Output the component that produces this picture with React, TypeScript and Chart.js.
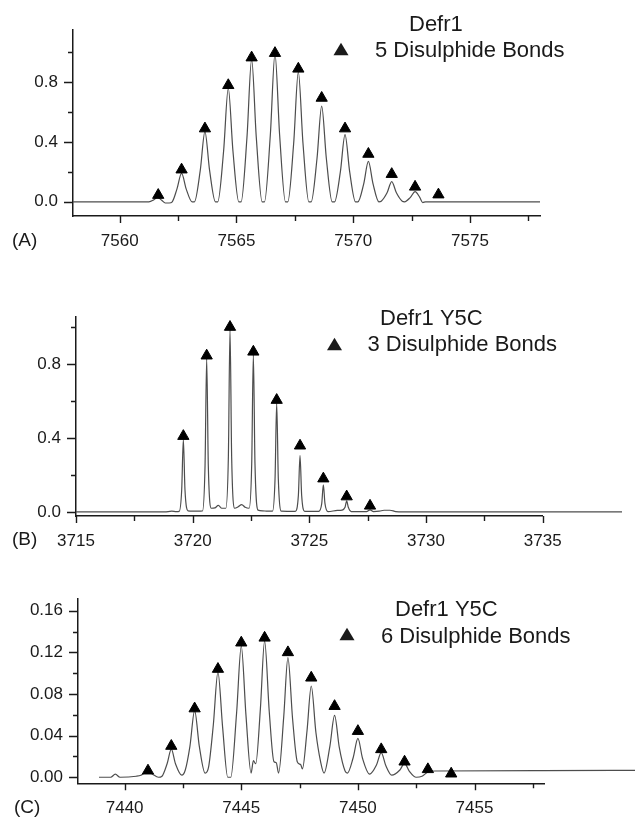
import React, { useEffect, useRef } from "react";
import { Chart, registerables } from "chart.js";

Chart.register(...registerables);

const FONT = "'Liberation Sans', Arial, Helvetica, sans-serif";
const INK = "#1a1a1a";
const TRACE = "#4d4d4d";

// ---------- Panel A : Defr1, 5 disulphide bonds ----------
const traceA: [number, number][] = [
  [7558, 0], [7561.25, 0], [7561.45, 0.012], [7561.62, 0.03], [7561.8, 0.01], [7561.95, -0.008], [7562.12, -0.008], [7562.25, 0],
  [7562.45, 0.085], [7562.65, 0.19], [7562.85, 0.085], [7563.1, 0],
  [7563.2, 0], [7563.45, 0.21], [7563.65, 0.47], [7563.85, 0.21], [7564.1, 0],
  [7564.2, 0], [7564.45, 0.34], [7564.65, 0.76], [7564.85, 0.34], [7565.1, 0],
  [7565.2, 0], [7565.45, 0.43], [7565.65, 0.955], [7565.85, 0.43], [7566.1, 0],
  [7566.2, 0], [7566.45, 0.445], [7566.65, 0.99], [7566.85, 0.445], [7567.1, 0],
  [7567.2, 0], [7567.45, 0.39], [7567.65, 0.87], [7567.85, 0.39], [7568.1, 0],
  [7568.2, 0], [7568.45, 0.29], [7568.65, 0.64], [7568.85, 0.29], [7569.1, 0],
  [7569.2, 0], [7569.45, 0.2], [7569.65, 0.45], [7569.85, 0.2], [7570.1, 0],
  [7570.2, 0], [7570.45, 0.12], [7570.65, 0.27], [7570.85, 0.12], [7571.1, 0],
  [7571.2, 0.004], [7571.45, 0.06], [7571.65, 0.135], [7571.85, 0.06], [7572.1, 0.004],
  [7572.2, 0], [7572.45, 0.03], [7572.65, 0.068], [7572.85, 0.03], [7572.98, -0.005], [7573.1, 0], [7578, 0],
];
const markerXA = [7561.65, 7562.65, 7563.65, 7564.65, 7565.65, 7566.65, 7567.65, 7568.65, 7569.65, 7570.65, 7571.65, 7572.65, 7573.65];
const markerYA = [0.045, 0.215, 0.49, 0.78, 0.965, 0.995, 0.89, 0.695, 0.49, 0.32, 0.185, 0.1, 0.048];
const xMajorA = [7560, 7565, 7570, 7575];
const xMinorA = [7562.5, 7567.5, 7572.5, 7577.5];
const yMajorA = [0, 0.4, 0.8];
const yMinorA = [0.2, 0.6, 1.0];

// ---------- Panel B : Defr1 Y5C, 3 disulphide bonds ----------
const traceB: [number, number][] = [
  [3715, 0], [3718.8, 0], [3719.1, 0.004], [3719.3, 0.002],
  [3719.42, 0.003], [3719.53, 0.12], [3719.6, 0.393], [3719.67, 0.12], [3719.8, 0.006],
  [3720.0, 0.004], [3720.2, 0.004],
  [3720.42, 0.005], [3720.53, 0.25], [3720.6, 0.83], [3720.67, 0.25], [3720.8, 0.02],
  [3720.95, 0.022], [3721.1, 0.035], [3721.25, 0.02],
  [3721.42, 0.02], [3721.53, 0.3], [3721.6, 0.988], [3721.67, 0.3], [3721.8, 0.02],
  [3721.95, 0.028], [3722.1, 0.04], [3722.25, 0.025],
  [3722.42, 0.02], [3722.53, 0.26], [3722.6, 0.852], [3722.67, 0.26], [3722.8, 0.01],
  [3723.0, 0.006], [3723.2, 0.004],
  [3723.42, 0.004], [3723.53, 0.18], [3723.6, 0.588], [3723.67, 0.18], [3723.8, 0.004],
  [3724.4, 0.003], [3724.53, 0.09], [3724.6, 0.305], [3724.67, 0.09], [3724.8, 0.003],
  [3725.4, 0.003], [3725.53, 0.045], [3725.6, 0.146], [3725.67, 0.045], [3725.8, 0.002],
  [3726.2, 0.008], [3726.4, 0.01], [3726.53, 0.025], [3726.6, 0.06], [3726.67, 0.025], [3726.8, 0.002],
  [3727.45, 0.002], [3727.6, 0.011], [3727.75, 0.002],
  [3728.0, 0.004], [3728.2, 0.009], [3728.45, 0.009], [3728.7, 0.002], [3729, 0], [3738.4, 0],
];
const markerXB = [3719.6, 3720.6, 3721.6, 3722.6, 3723.6, 3724.6, 3725.6, 3726.6, 3727.6];
const markerYB = [0.41, 0.845, 1.0, 0.866, 0.605, 0.358, 0.18, 0.083, 0.033];
const xMajorB = [3715, 3720, 3725, 3730, 3735];
const xMinorB = [3717.5, 3722.5, 3727.5, 3732.5];
const yMajorB = [0, 0.4, 0.8];
const yMinorB = [0.2, 0.6, 1.0];

// ---------- Panel C : Defr1 Y5C, 6 disulphide bonds ----------
const traceC: [number, number][] = [
  [7438.9, 0], [7439.4, 0], [7439.6, 0.003], [7439.8, 0], [7440.5, 0.001],
  [7440.7, 0.002], [7440.85, 0.004], [7441.0, 0.006], [7441.2, 0.003], [7441.45, 0],
  [7441.6, 0.001], [7441.82, 0.013], [7442.0, 0.027], [7442.18, 0.013], [7442.45, 0.002],
  [7442.6, 0.007], [7442.8, 0.03], [7443.0, 0.064], [7443.2, 0.03], [7443.45, 0.004],
  [7443.6, 0.01], [7443.8, 0.05], [7444.0, 0.101], [7444.2, 0.048], [7444.42, 0.0], [7444.55, 0.0],
  [7444.8, 0.062], [7445.0, 0.126], [7445.2, 0.06], [7445.42, 0.004], [7445.52, 0.016], [7445.62, 0.013],
  [7445.82, 0.066], [7446.0, 0.131], [7446.2, 0.063], [7446.4, 0.015], [7446.5, 0.014], [7446.6, 0.004],
  [7446.82, 0.058], [7447.0, 0.115], [7447.2, 0.056], [7447.4, 0.015], [7447.55, 0.012], [7447.62, 0.008],
  [7447.82, 0.045], [7448.0, 0.0877], [7448.2, 0.043], [7448.4, 0.015], [7448.55, 0.004],
  [7448.8, 0.03], [7449.0, 0.0595], [7449.2, 0.029], [7449.45, 0.006], [7449.55, 0.004],
  [7449.8, 0.019], [7450.0, 0.0374], [7450.2, 0.018], [7450.5, 0.003],
  [7450.8, 0.012], [7451.0, 0.0237], [7451.2, 0.011], [7451.45, 0.002],
  [7451.8, 0.007], [7452.0, 0.0134], [7452.2, 0.006], [7452.5, 0.0],
  [7452.75, 0.001], [7453.0, 0.005], [7453.3, 0.006], [7457.9, 0.0063], [7462.5, 0.0067],
];
const markerXC = [7441, 7442, 7443, 7444, 7445, 7446, 7447, 7448, 7449, 7450, 7451, 7452, 7453, 7454];
const markerYC = [0.0063, 0.03, 0.066, 0.104, 0.1293, 0.134, 0.12, 0.0956, 0.0683, 0.0443, 0.0268, 0.0149, 0.0076, 0.0034];
const xMajorC = [7440, 7445, 7450, 7455];
const xMinorC = [7442.5, 7447.5, 7452.5, 7457.5];
const yMajorC = [0, 0.04, 0.08, 0.12, 0.16];
const yMinorC = [0.02, 0.06, 0.1, 0.14];

type Panel = {
  top: number;
  height: number;
  padTop: number;
  padRight: number;
  yAxisWidth: number;
  xAxisHeight: number;
  xMin: number;
  xMax: number;
  yMin: number;
  yMax: number;
  decimals: number;
  trace: [number, number][];
  mx: number[];
  my: number[];
  xMajor: number[];
  xMinor: number[];
  yMajor: number[];
  yMinor: number[];
  title: string;
  series: string;
  tag: string;
  titlePos: [number, number];
  triPos: [number, number];
  seriesPos: [number, number];
  tagPos: [number, number];
};

const panels: Panel[] = [
  {
    top: 0, height: 260, padTop: 30, padRight: 95, yAxisWidth: 73, xAxisHeight: 44,
    xMin: 7558, xMax: 7578, yMin: -0.095, yMax: 1.15, decimals: 1,
    trace: traceA, mx: markerXA, my: markerYA,
    xMajor: xMajorA, xMinor: xMinorA, yMajor: yMajorA, yMinor: yMinorA,
    title: "Defr1", series: "5 Disulphide Bonds", tag: "(A)",
    titlePos: [409, 25], triPos: [341, 49], seriesPos: [375, 51], tagPos: [12, 241],
  },
  {
    top: 270, height: 290, padTop: 46.7, padRight: 92.3, yAxisWidth: 76, xAxisHeight: 44,
    xMin: 3715, xMax: 3735, yMin: -0.022, yMax: 1.056, decimals: 1,
    trace: traceB, mx: markerXB, my: markerYB,
    xMajor: xMajorB, xMinor: xMinorB, yMajor: yMajorB, yMinor: yMinorB,
    title: "Defr1 Y5C", series: "3 Disulphide Bonds", tag: "(B)",
    titlePos: [380, 49], triPos: [334.5, 74], seriesPos: [367.5, 75], tagPos: [12, 270],
  },
  {
    top: 560, height: 259, padTop: 38.3, padRight: 90.5, yAxisWidth: 78, xAxisHeight: 35.7,
    xMin: 7438, xMax: 7458, yMin: -0.0058, yMax: 0.172, decimals: 2,
    trace: traceC, mx: markerXC, my: markerYC,
    xMajor: xMajorC, xMinor: xMinorC, yMajor: yMajorC, yMinor: yMinorC,
    title: "Defr1 Y5C", series: "6 Disulphide Bonds", tag: "(C)",
    titlePos: [395, 50], triPos: [347, 74], seriesPos: [381, 77], tagPos: [14, 248],
  },
];

function buildChart(canvas: HTMLCanvasElement, p: Panel) {
  const overlay = {
    id: "overlay",
    afterDraw(chart: any) {
      const ctx = chart.ctx as CanvasRenderingContext2D;
      const xs = chart.scales.x;
      const ys = chart.scales.y;
      const a = chart.chartArea;
      ctx.save();
      ctx.strokeStyle = INK;
      ctx.lineWidth = 1.4;
      ctx.beginPath();
      p.xMajor.forEach((v) => {
        const px = Math.round(xs.getPixelForValue(v)) + 0.5;
        ctx.moveTo(px, a.bottom);
        ctx.lineTo(px, a.bottom + 7);
      });
      p.xMinor.forEach((v) => {
        const px = Math.round(xs.getPixelForValue(v)) + 0.5;
        ctx.moveTo(px, a.bottom);
        ctx.lineTo(px, a.bottom + 5);
      });
      p.yMajor.forEach((v) => {
        const py = Math.round(ys.getPixelForValue(v)) + 0.5;
        ctx.moveTo(a.left, py);
        ctx.lineTo(a.left - 9, py);
      });
      p.yMinor.forEach((v) => {
        const py = Math.round(ys.getPixelForValue(v)) + 0.5;
        ctx.moveTo(a.left, py);
        ctx.lineTo(a.left - 5, py);
      });
      ctx.stroke();

      ctx.fillStyle = INK;
      ctx.textAlign = "left";
      ctx.textBaseline = "middle";
      ctx.font = `22px ${FONT}`;
      ctx.fillText(p.title, p.titlePos[0], p.titlePos[1]);
      ctx.fillText(p.series, p.seriesPos[0], p.seriesPos[1]);
      const [cx, cy] = p.triPos;
      const w = 15;
      const h = 12.5;
      ctx.beginPath();
      ctx.moveTo(cx, cy - h / 2);
      ctx.lineTo(cx + w / 2, cy + h / 2);
      ctx.lineTo(cx - w / 2, cy + h / 2);
      ctx.closePath();
      ctx.fill();
      ctx.font = `19px ${FONT}`;
      ctx.fillText(p.tag, p.tagPos[0], p.tagPos[1]);
      ctx.restore();
    },
  };

  const xTicks = [...p.xMajor, ...p.xMinor].sort((m, n) => m - n);
  const yTicks = [...p.yMajor, ...p.yMinor].sort((m, n) => m - n);

  return new Chart(canvas, {
    type: "scatter",
    data: {
      datasets: [
        {
          label: p.series,
          data: p.mx.map((x, i) => ({ x, y: p.my[i] })),
          showLine: false,
          pointStyle: "triangle",
          pointRadius: 6.5,
          pointBackgroundColor: "#000",
          pointBorderColor: "#000",
          pointBorderWidth: 1,
          clip: false,
        } as any,
        {
          label: p.title,
          data: p.trace.map(([x, y]) => ({ x, y })),
          showLine: true,
          borderColor: TRACE,
          borderWidth: 1.2,
          pointRadius: 0,
          cubicInterpolationMode: "monotone",
          clip: false,
        } as any,
      ],
    },
    options: {
      responsive: false,
      animation: false,
      events: [],
      layout: { padding: { top: p.padTop, right: p.padRight, left: 0, bottom: 0 } },
      plugins: { legend: { display: false }, tooltip: { enabled: false }, title: { display: false } },
      scales: {
        x: {
          type: "linear",
          position: "bottom",
          min: p.xMin,
          max: p.xMax,
          afterBuildTicks: (axis: any) => {
            axis.ticks = xTicks.map((value) => ({ value }));
          },
          afterFit: (axis: any) => {
            axis.height = p.xAxisHeight;
          },
          ticks: {
            autoSkip: false,
            maxRotation: 0,
            padding: 7,
            color: INK,
            font: { family: FONT, size: 17 },
            callback: (v: any) => (p.xMajor.includes(v) ? String(v) : ""),
          },
          grid: { drawOnChartArea: false, tickLength: 8, tickColor: "rgba(0,0,0,0)" },
          border: { display: true, color: INK, width: 1.5 },
        },
        y: {
          type: "linear",
          position: "left",
          min: p.yMin,
          max: p.yMax,
          afterBuildTicks: (axis: any) => {
            axis.ticks = yTicks.map((value) => ({ value }));
          },
          afterFit: (axis: any) => {
            axis.width = p.yAxisWidth;
          },
          ticks: {
            autoSkip: false,
            padding: 5,
            color: INK,
            font: { family: FONT, size: 17 },
            callback: (v: any) => (p.yMajor.includes(v) ? Number(v).toFixed(p.decimals) : ""),
          },
          grid: { drawOnChartArea: false, tickLength: 10, tickColor: "rgba(0,0,0,0)" },
          border: { display: true, color: INK, width: 1.5 },
        },
      },
    } as any,
    plugins: [overlay],
  });
}

function PanelCanvas({ p }: { p: Panel }) {
  const ref = useRef<HTMLCanvasElement | null>(null);
  useEffect(() => {
    if (!ref.current) return;
    const chart = buildChart(ref.current, p);
    return () => chart.destroy();
  }, [p]);
  return (
    <canvas
      ref={ref}
      width={635}
      height={p.height}
      style={{ position: "absolute", left: 0, top: p.top, width: 635, height: p.height }}
    />
  );
}

export default function App() {
  return (
    <div style={{ position: "absolute", left: 0, top: 0, width: 635, height: 819, background: "#fff", overflow: "hidden" }}>
      {panels.map((p, i) => (
        <PanelCanvas key={i} p={p} />
      ))}
    </div>
  );
}
